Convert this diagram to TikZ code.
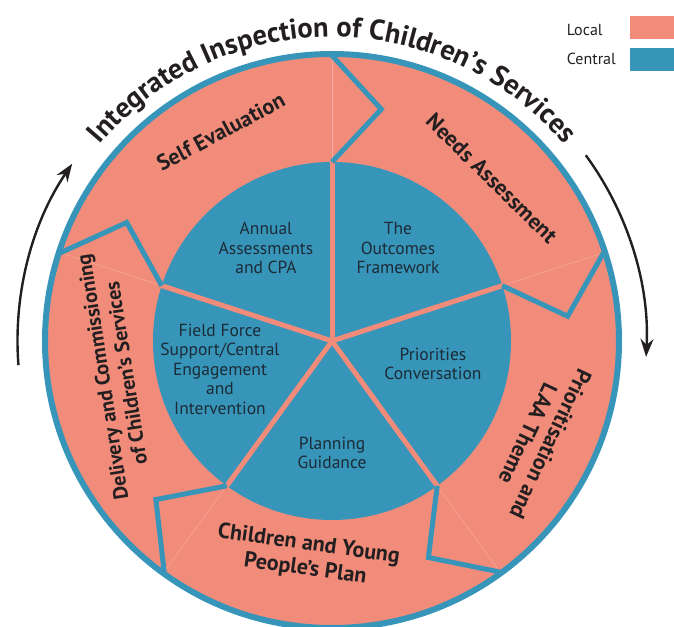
\documentclass[tikz,border=0pt]{standalone}
\usepackage{fontspec}
\setmainfont{PT Sans}
\usepackage{tikz}
\usetikzlibrary{decorations.text,arrows.meta}
\definecolor{local}{HTML}{F28C7A}
\definecolor{central}{HTML}{3795BA}
\definecolor{ink}{HTML}{231F20}
\definecolor{inkblue}{HTML}{1C2B36}

\begin{document}
\begin{tikzpicture}[
        x=1pt, y=1pt,
        sector/.style={
            text=inkblue,
            align=center,
            font=\fontsize{17.5}{19.5}\selectfont
        },
        stage/.style={
            text=ink,
            align=center,
            font=\bfseries\fontsize{22}{25}\selectfont
        },
        spoke/.style={
            draw=local,
            line width=5pt
        },
        chevron/.style={
            draw=central,
            line width=5pt,
            line join=miter
        },
        cycle/.style={
            draw=ink,
            line width=2.4pt,
            -{Stealth[length=18pt,width=13pt]}
        },
        legend/.style={
            text=ink,
            anchor=west,
            inner sep=0pt,
            font=\fontsize{16}{18}\selectfont
        }
    ]
        \useasboundingbox (-332,-285) rectangle (342,341);
        \coordinate (c) at (0,0);

        % Outer ring
        \fill[local] (c) circle (287);
        \draw[central, line width=6pt] (c) circle (287);

        % Inner circle
        \fill[central] (c) circle (179);
        \foreach \a in {90,162,234,306,18}
            \draw[spoke] (c) -- (\a:179);

        % Chevrons
        \foreach \a in {90,162,234,306,18} {
            \draw[local!70!white, line width=0.4pt] (\a:181) -- (\a:284);
            \draw[chevron] (\a:179) -- (\a-12:237) -- (\a:285.5);
        }

        % Inner labels
        \node[sector] (annual) at (-66,93) {Annual\\Assessments\\and CPA};
        \node[sector] (outcomes) at (66,93) {The\\Outcomes\\Framework};
        \node[sector] (priorities) at (101,-23) {Priorities\\Conversation};
        \node[sector] (planning) at (0,-112) {Planning\\Guidance};
        \node[sector] (fieldforce) at (-112,-28) {Field Force\\Support/Central\\Engagement\\and\\Intervention};

        % Outer labels
        \node[stage, rotate=28] (selfeval) at (118:237) {Self Evaluation};
        \node[stage, rotate=-44.5] (needs) at (45.5:228) {Needs Assessment};
        \node[stage, rotate=-115.3] (prior) at (-25.3:229.5) {Prioritisation and\\LAA Theme};
        \node[stage, rotate=-8] (cypp) at (263.4:217.5) {Children and Young\\People’s Plan};
        \node[stage, rotate=98.9, font=\bfseries\fontsize{20.5}{24}\selectfont] (deliv) at (188.9:220.6) {Delivery and Commissioning\\of Children’s Services};

        % Title and cycle arrows
        \path[decorate, decoration={text along path, text align=center,
            text={|\bfseries\fontsize{28.5}{28.5}\selectfont\color{ink}|Integrated Inspection of Children’s Services}}]
            (165:304) arc (165:15:304);
        \coordinate (lstart) at (184.4:314.5);
        \coordinate (rstart) at (36.2:314.5);
        \draw[cycle] (lstart) arc (184.4:145.7:314.5);
        \draw[cycle] (rstart) arc (36.2:-2.9:314.5);

        % Legend
        \node[legend] (loclabel) at (234.7,311) {Local};
        \node[legend] (cenlabel) at (234.7,282) {Central};
        \fill[local] (298,302) rectangle (342,325);
        \fill[central] (298,270) rectangle (342,293);
    \end{tikzpicture}
\end{document}
